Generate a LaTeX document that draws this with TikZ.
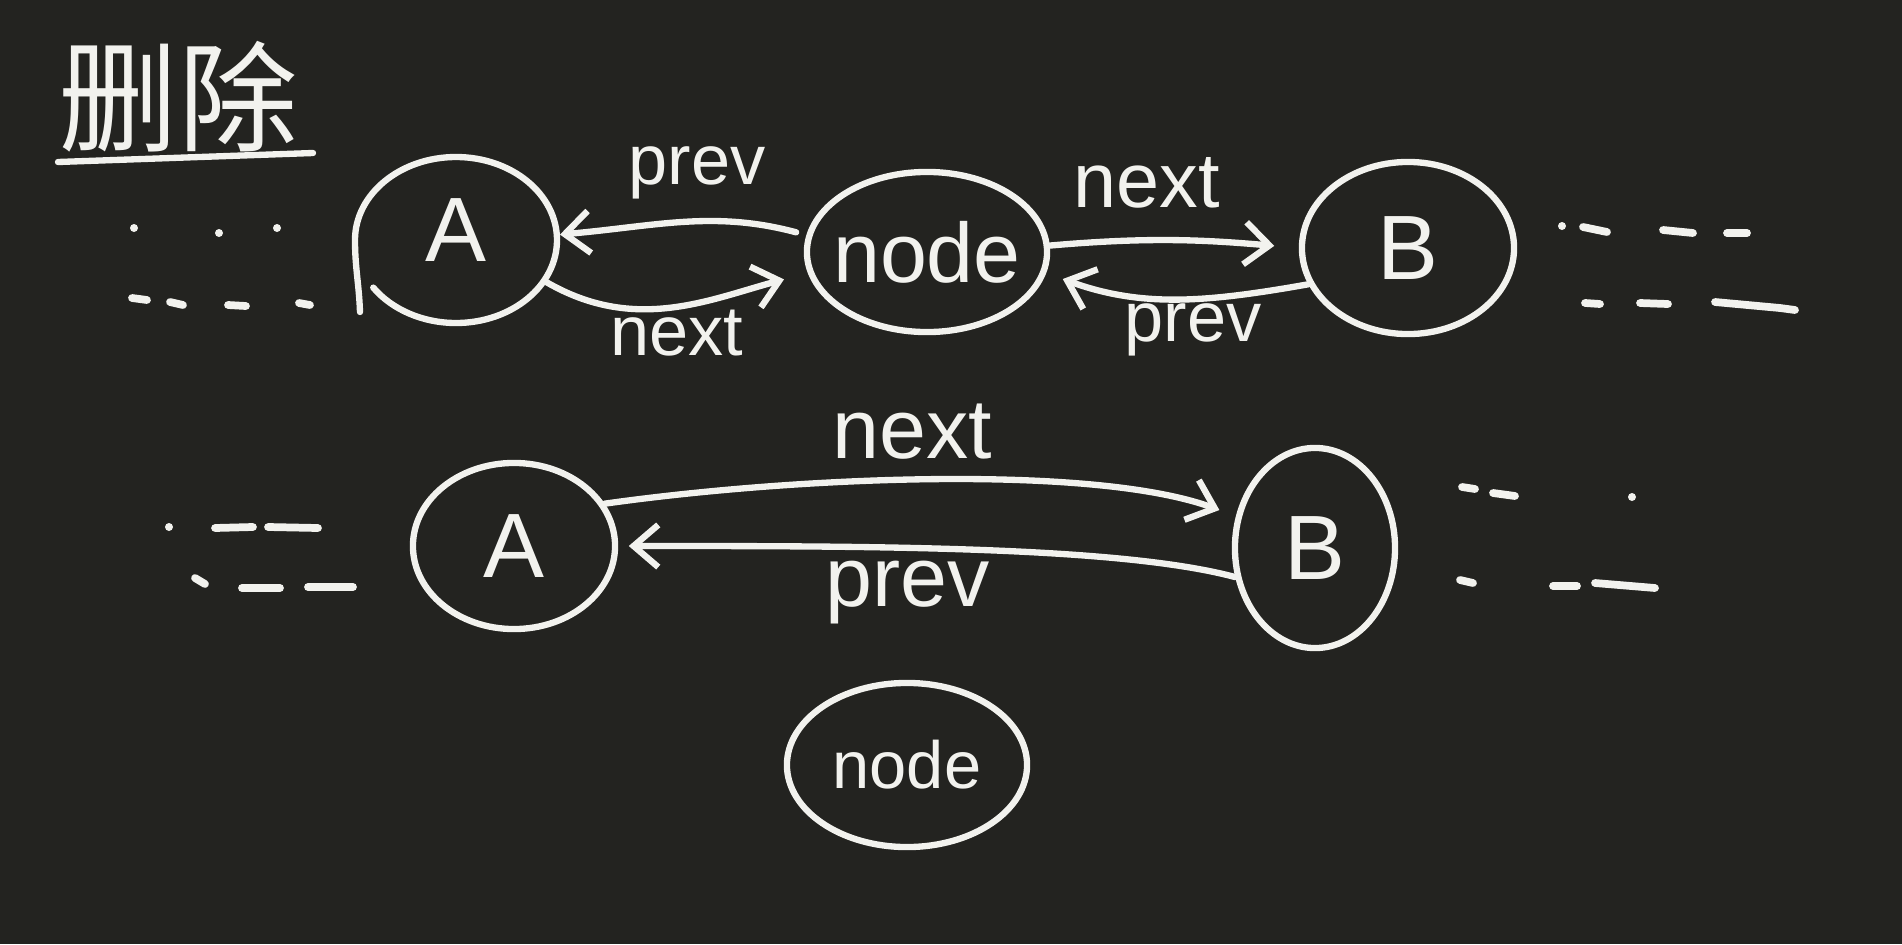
\documentclass[tikz,border=0pt]{standalone}
\usepackage{fontspec}
\setmainfont{Liberation Sans}
\newfontfamily\cjk{Noto Sans CJK SC}
\usetikzlibrary{arrows.meta,shapes.geometric}
\definecolor{bg}{RGB}{35,35,32}
\definecolor{ink}{RGB}{242,242,238}
\begin{document}
\begin{tikzpicture}[x=0.01cm,y=0.01cm,
  stroke/.style={draw=ink,line width=1.8pt,line cap=round,line join=round},
  elnode/.style={ellipse,inner sep=0pt,stroke},
  lbl/.style={text=ink,inner sep=0pt},
  big/.style={font=\fontsize{26}{30}\selectfont},
  arr/.style={stroke,-{Straight Barb[length=7pt,width=12pt]}},
  seg/.style={draw=ink,line width=2.2pt,line cap=round},
  dot/.style={fill=ink}]
\fill[bg] (0,0) rectangle (1902,944);
\useasboundingbox (0,0) rectangle (1902,944);

% title
\node[lbl,font=\cjk\fontsize{34}{38}\selectfont] (title) at (178,847) {删除};
\coordinate (ul1) at (58,782);
\coordinate (ul2) at (313,791);
\draw[stroke] (ul1) -- (ul2);

% top row nodes
\node[elnode,draw=none,minimum width=2.02cm,minimum height=1.66cm,
  label={[lbl,big,yshift=0.1cm]center:A}] (A1) at (456,704) {};
\draw[stroke] (A1.center) ++(-96,-72) to[out=92,in=-90]
  ([shift={(180:101 and 83)}]A1.center)
  arc[start angle=180,end angle=-145,x radius=101,y radius=83];
\node[elnode,minimum width=2.40cm,minimum height=1.60cm,
  label={[lbl,font=\fontsize{24}{28}\selectfont]center:node}] (N1) at (927,692) {};
\node[elnode,minimum width=2.12cm,minimum height=1.72cm,
  label={[lbl,big]center:B}] (B1) at (1408,696) {};

% top row connectors
\draw[arr,shorten <=3pt] (N1.172) to[out=165,in=5] (A1.3);
\draw[arr,shorten >=7pt] (A1.-25) to[out=-30,in=195] (N1.190);
\draw[arr,shorten >=7pt] (N1.3) to[out=5,in=175] (B1.180);
\draw[arr,shorten >=5pt] (B1.200) to[out=190,in=-20] (N1.-10);

\node[lbl,font=\fontsize{20}{24}\selectfont] (lp1) at (697,771) {prev};
\node[lbl,font=\fontsize{20}{24}\selectfont] (ln1) at (677,611) {next};
\node[lbl,font=\fontsize{22}{26}\selectfont] (ln2) at (1147,761) {next};
\node[lbl,font=\fontsize{20}{24}\selectfont] (lp2) at (1193,614) {prev};

% top row dashes
\fill[dot] (134,716) circle[radius=4];
\fill[dot] (219,711) circle[radius=4];
\fill[dot] (277,716) circle[radius=4];
\draw[seg] (132,646) -- (147,644);
\draw[seg] (170,642) -- (183,639);
\draw[seg] (228,639) -- (246,638);
\draw[seg] (299,641) -- (310,639);

\fill[dot] (1562,718) circle[radius=4];
\draw[seg] (1583,717) -- (1607,712);
\draw[seg] (1663,714) -- (1693,711);
\draw[seg] (1727,711) -- (1747,711);
\draw[seg] (1585,641) -- (1600,640);
\draw[seg] (1640,641) -- (1668,640);
\draw[seg] (1715,642) -- (1780,636) -- (1795,634);

% bottom row nodes
\node[elnode,minimum width=2.02cm,minimum height=1.66cm,
  label={[lbl,big]center:A}] (A2) at (514,398) {};
\node[elnode,minimum width=1.60cm,minimum height=2.00cm,
  label={[lbl,big]center:B}] (B2) at (1315,396) {};

\draw[arr,shorten >=5pt] (A2.25) .. controls +(8:200) and +(160:150) .. (B2.158);
\draw[arr,shorten >=3pt] (B2.200) .. controls +(165:120) and +(0:250) .. (A2.0);

\node[lbl,font=\fontsize{24}{28}\selectfont] (ln3) at (912,512) {next};
\node[lbl,font=\fontsize{24}{28}\selectfont] (lp3) at (908,351) {prev};

% bottom row dashes
\fill[dot] (169,417) circle[radius=4];
\draw[seg] (215,416) -- (253,417);
\draw[seg] (268,417) -- (318,416);
\draw[seg] (195,366) -- (205,360);
\draw[seg] (242,356) -- (280,356);
\draw[seg] (308,357) -- (353,357);

\draw[seg] (1462,457) -- (1475,455);
\draw[seg] (1493,451) -- (1515,448);
\fill[dot] (1632,447) circle[radius=4];
\draw[seg] (1460,364) -- (1473,361);
\draw[seg] (1553,358) -- (1577,358);
\draw[seg] (1595,361) -- (1655,356);

% removed node
\node[elnode,minimum width=2.40cm,minimum height=1.64cm,
  label={[lbl,font=\fontsize{19}{22}\selectfont]center:node}] (N2) at (907,179) {};
\end{tikzpicture}
\end{document}
